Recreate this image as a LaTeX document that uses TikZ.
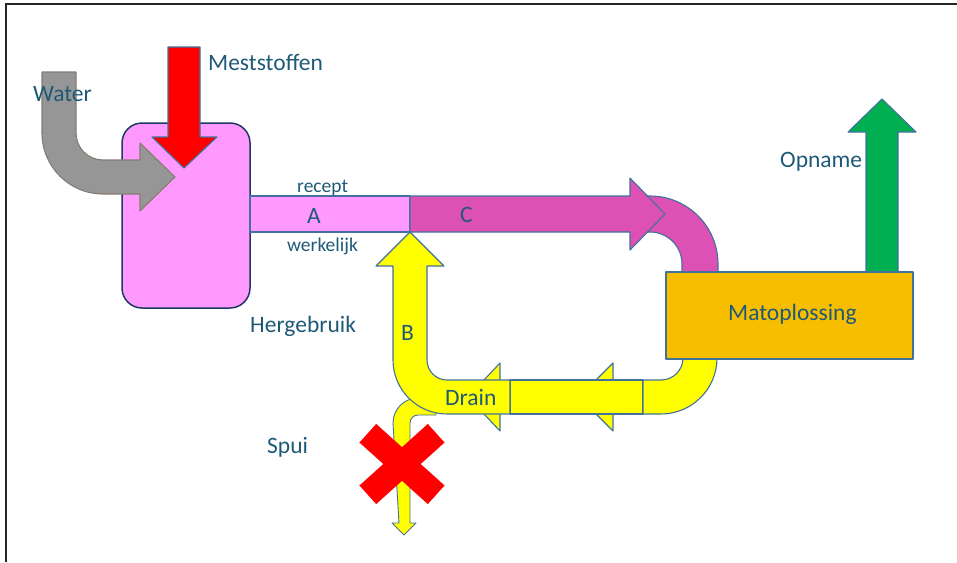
\documentclass[tikz,border=0pt]{standalone}
\usepackage{fontspec}
\setmainfont{Carlito}
\definecolor{txt}{RGB}{30,90,120}
\definecolor{edge}{RGB}{65,113,156}
\definecolor{vesfill}{RGB}{255,153,255}
\definecolor{vesedge}{RGB}{31,56,100}
\definecolor{magentapipe}{RGB}{221,80,180}
\definecolor{greyarrow}{RGB}{150,150,150}
\definecolor{greyedge}{RGB}{135,125,115}
\definecolor{boxfill}{RGB}{247,190,0}
\definecolor{greenarrow}{RGB}{0,176,80}
\definecolor{yellowpipe}{RGB}{255,255,0}
\tikzset{
  flowshape/.style={draw=edge, line width=1.1pt, line join=round},
  lbl/.style={text=txt, inner sep=0pt, anchor=base west, font=\fontsize{23.5}{26}\selectfont},
  smalllbl/.style={lbl, font=\fontsize{19.5}{22}\selectfont},
}
\begin{document}
\begin{tikzpicture}[x=1pt,y=-1pt]
\useasboundingbox (0,0) rectangle (957,562);
% frame
\coordinate (fl) at (6,562);
\coordinate (fc) at (6,4);
\coordinate (fr) at (957,4);
\draw[line width=2pt, black!85] (fl) -- (fc) -- (fr);

% vessel
\draw[fill=vesfill, draw=vesedge, line width=1.5pt, rounded corners=20pt] (122,123) rectangle (250,308);

% water arrow (grey, bent)
\draw[flowshape, fill=greyarrow, draw=greyedge]
  (42,72) -- (76,72) -- (76,133) arc[start angle=180, end angle=90, radius=27]
  -- (140,160) -- (140,143) -- (175,177) -- (140,211) -- (140,194)
  -- (103,194) arc[start angle=90, end angle=180, radius=61] -- cycle;

% Meststoffen arrow (red)
\draw[flowshape, fill=red] (168,47) -- (200,47) -- (200,137) -- (217,137) -- (184,168)
  -- (152,137) -- (168,137) -- cycle;

% pipe A
\draw[flowshape, fill=vesfill] (250,196) rectangle (410,232);

% C bend
\draw[flowshape, fill=magentapipe] (630,196) -- (650,196)
  arc[start angle=270, end angle=360, radius=68] -- (718,272) -- (682,272) -- (682,264)
  arc[start angle=0, end angle=-90, radius=32] -- (630,232) -- cycle;
% C arrow
\draw[flowshape, fill=magentapipe] (410,196) -- (630,196) -- (630,178) -- (665,214)
  -- (630,250) -- (630,232) -- (410,232) -- cycle;

% return path arrow heads
\draw[flowshape, fill=yellowpipe] (613,363) -- (613,431) -- (579,397) -- cycle;
\draw[flowshape, fill=yellowpipe] (500,363) -- (500,431) -- (468,397) -- cycle;
\draw[flowshape, fill=yellowpipe] (510,380) rectangle (643,414);

% right bend of return
\draw[flowshape, fill=yellowpipe] (643,380) -- (661,380)
  arc[start angle=90, end angle=0, radius=22] -- (683,350) -- (717,350) -- (717,358)
  arc[start angle=0, end angle=90, radius=56] -- (643,414) -- cycle;

% Spui (thin bent arrow, emerging from under B)
\draw[flowshape, line width=0.9pt, fill=yellowpipe] (436,398) -- (418,398)
  arc[start angle=270, end angle=180, radius=25] -- (399,523) -- (392,523) -- (404,535)
  -- (416,523) -- (410,523) -- (410,423)
  arc[start angle=180, end angle=270, radius=8] -- (436,415) -- cycle;

% B bent arrow (up to the junction)
\draw[flowshape, fill=yellowpipe] (510,380) -- (447,380)
  arc[start angle=90, end angle=180, radius=20] -- (427,266) -- (444,266) -- (410,232)
  -- (376,266) -- (393,266) -- (393,360)
  arc[start angle=180, end angle=90, radius=54] -- (510,414) -- cycle;

% red cross
\fill[red, rotate around={42:(402,464)}] (356,451.5) rectangle (448,476.5);
\fill[red, rotate around={-42:(402,464)}] (356,451.5) rectangle (448,476.5);

% Opname arrow (green)
\draw[flowshape, fill=greenarrow] (866,272) -- (866,132) -- (848,132) -- (882,99)
  -- (916,132) -- (898,132) -- (898,272) -- cycle;

% Matoplossing box
\draw[flowshape, fill=boxfill] (666,272) rectangle (913,359);

% labels
\node[lbl] (water) at (33,101) {Water};
\node[lbl] (mest) at (208,70) {Meststoffen};
\node[smalllbl] (recept) at (297,192) {recept};
\node[lbl] (a) at (307,223) {A};
\node[smalllbl] (werk) at (287,251) {werkelijk};
\node[lbl] (c) at (460,222) {C};
\node[lbl] (herg) at (250,332) {Hergebruik};
\node[lbl] (b) at (401,340) {B};
\node[lbl] (drain) at (445,405) {Drain};
\node[lbl] (spui) at (267,453) {Spui};
\node[lbl] (mat) at (728,320) {Matoplossing};
\node[lbl] (opname) at (780,167) {Opname};
\end{tikzpicture}
\end{document}
